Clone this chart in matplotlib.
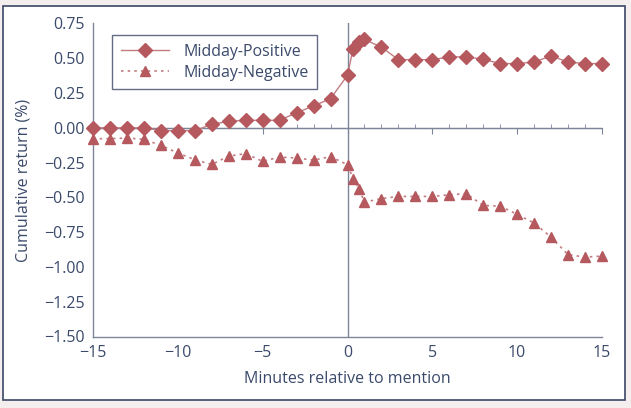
import matplotlib
matplotlib.use("Agg")
import matplotlib.pyplot as plt
from matplotlib.patches import Rectangle

plt.rcParams['font.family'] = ['Open Sans', 'DejaVu Sans']

minutes = [-15, -14, -13, -12, -11, -10, -9, -8, -7, -6, -5, -4, -3, -2, -1,
           0, 0.33, 0.67, 1, 2, 3, 4, 5, 6, 7, 8, 9, 10, 11, 12, 13, 14, 15]
midday_positive = [0.00, 0.00, 0.00, 0.00, -0.02, -0.02, -0.02, 0.025, 0.047, 0.054,
                   0.054, 0.054, 0.109, 0.157, 0.21,
                   0.378, 0.57, 0.617, 0.635, 0.58, 0.49, 0.49, 0.49, 0.51, 0.51,
                   0.493, 0.462, 0.462, 0.473, 0.517, 0.473, 0.462, 0.462]
midday_negative = [-0.078, -0.078, -0.073, -0.083, -0.126, -0.181, -0.229, -0.263,
                   -0.203, -0.186, -0.241, -0.21, -0.217, -0.232, -0.207,
                   -0.265, -0.365, -0.437, -0.534, -0.509, -0.493, -0.493, -0.493,
                   -0.481, -0.473, -0.558, -0.563, -0.622, -0.685, -0.786, -0.912,
                   -0.929, -0.922]
y_ticks = [0.75, 0.50, 0.25, 0.00, -0.25, -0.50, -0.75, -1.00, -1.25, -1.50]
x_ticks = [-15, -10, -5, 0, 5, 10, 15]

text_c = '#3b4a6b'
spine_c = '#7d8599'
mark_c = '#b5595f'
line_c = '#c27c81'
fs = 11.5

fig = plt.figure(figsize=(6.31, 4.08), dpi=100)
fig.patch.set_facecolor('#f4eeee')
frame = Rectangle((3/631, 1 - 400/408), 622/631, 394/408,
                  transform=fig.transFigure, facecolor='white',
                  edgecolor='#3c4766', linewidth=1.2, zorder=-10)
fig.patches.append(frame)

ax = fig.add_axes([93/631, 1 - 336.5/408, 509/631, 313/408])
ax.set_zorder(5)
ax.set_facecolor('none')
ax.set_xlim(-15, 15)
ax.set_ylim(-1.5, 0.75)

ax.plot(minutes, midday_positive, color=line_c, lw=1.0, marker='D', ms=7,
        mfc=mark_c, mec=mark_c, label='Midday-Positive', zorder=4, clip_on=False)
ax.plot(minutes, midday_negative, color=line_c, lw=1.2, ls=(0, (1.5, 2.5)),
        marker='^', ms=6.5, mfc=mark_c, mec=mark_c, label='Midday-Negative',
        zorder=4, clip_on=False)

for s in ['top', 'right']:
    ax.spines[s].set_visible(False)
for s in ['left', 'bottom']:
    ax.spines[s].set_color(spine_c)
    ax.spines[s].set_linewidth(1.0)

ax.axhline(0, color=spine_c, lw=1.0, zorder=2)
ax.axvline(0, color=spine_c, lw=1.0, zorder=2)

ax.set_yticks(y_ticks)
ax.set_yticklabels([f'{v:.2f}'.replace('-', '\u2212') for v in y_ticks])
ax.set_xticks(x_ticks)
ax.set_xticklabels([str(v).replace('-', '\u2212') for v in x_ticks])
ax.tick_params(axis='both', length=0, labelsize=fs, colors=text_c, pad=6)
ax.tick_params(axis='x', pad=6)

sec = ax.secondary_xaxis(0, transform=ax.transData)
sec.set_xticks(x_ticks)
sec.set_xticks(list(range(-15, 16)), minor=True)
sec.tick_params(which='major', direction='out', length=4, color=spine_c, labelbottom=False)
sec.tick_params(which='minor', direction='in', length=3, color=spine_c)
sec.spines['bottom'].set_color(spine_c)
sec.set_xticklabels([])

ax.set_xlabel('Minutes relative to mention', fontsize=fs, color=text_c, labelpad=7)
ax.set_ylabel('Cumulative return (%)', fontsize=fs, color=text_c, labelpad=9)

leg = ax.legend(loc='upper left', bbox_to_anchor=(19/509, 1 - 11.5/313),
                frameon=True, fancybox=False, fontsize=fs, handlelength=3.0,
                handletextpad=0.9, borderpad=0.55, labelspacing=0.3,
                labelcolor=text_c, borderaxespad=0)
leg.get_frame().set_edgecolor('#3c4766')
leg.get_frame().set_linewidth(1.0)

fig.savefig('out.png', dpi=100, facecolor=fig.get_facecolor())
